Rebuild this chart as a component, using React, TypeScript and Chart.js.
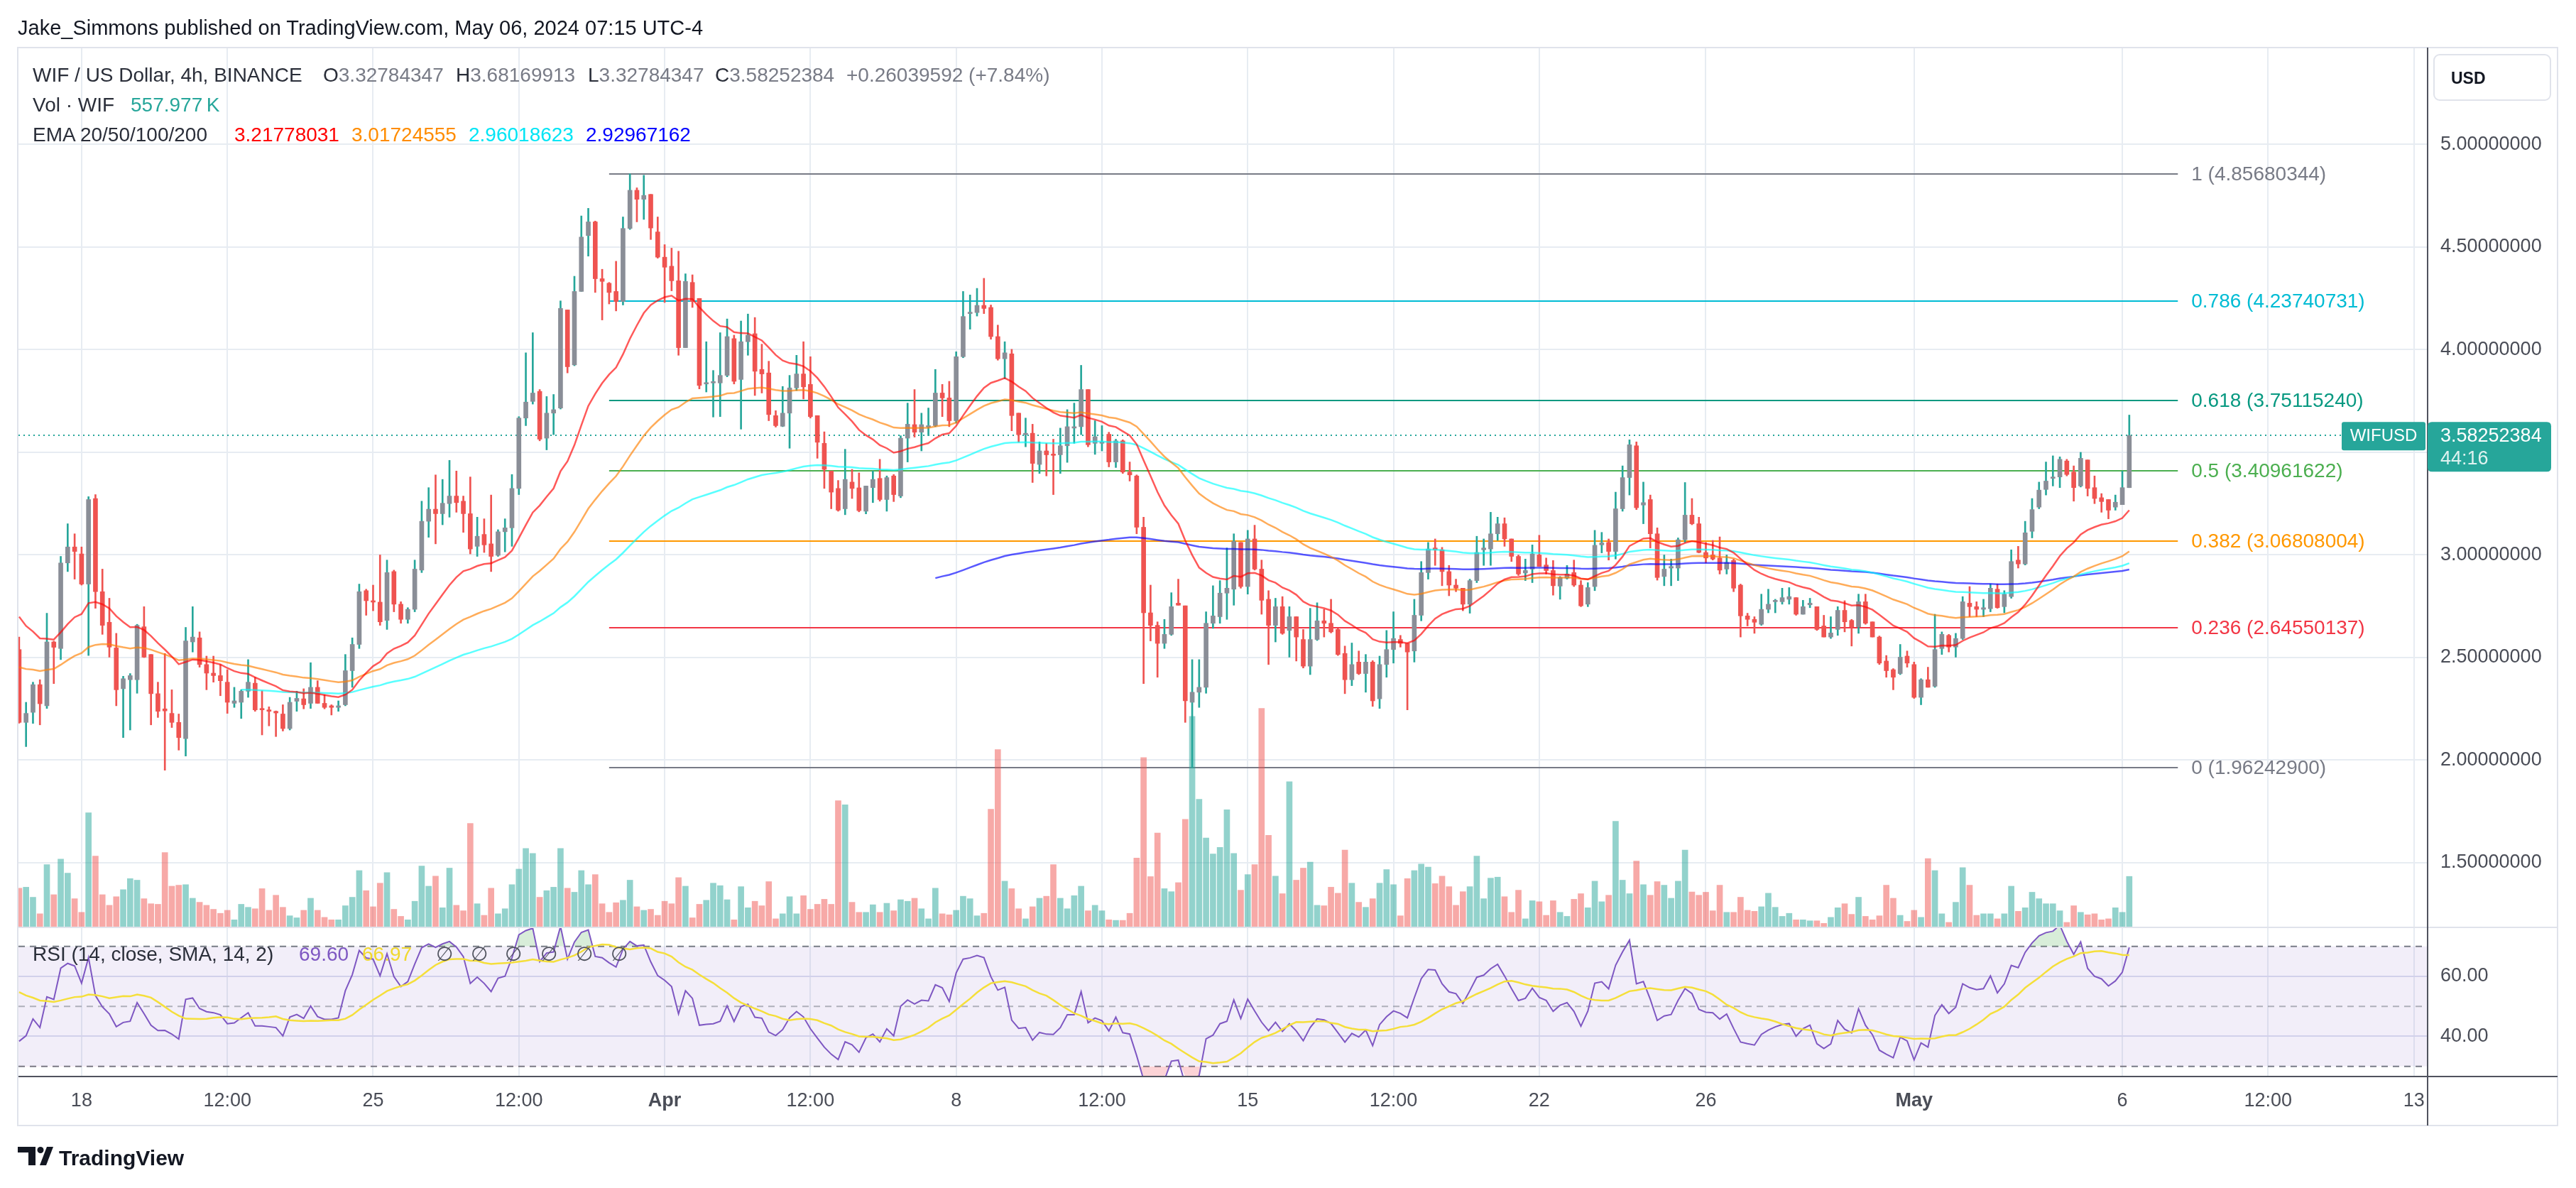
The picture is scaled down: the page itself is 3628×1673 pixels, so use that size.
import React, { useEffect, useRef } from "react";
import { Chart, registerables } from "chart.js";

Chart.register(...registerables);

// ---------------- data (4h WIF/USD bars, Mar 16 12:00 -> May 6 04:00) ----------------
const OPEN = [
  2.539,2.184,2.233,2.368,2.265,2.576,2.544,2.961,3.039,3.005,
  2.858,3.275,2.821,2.672,2.547,2.348,2.392,2.392,2.650,2.515,
  2.324,2.250,2.228,2.184,2.105,2.576,2.596,2.466,2.424,2.412,
  2.380,2.277,2.282,2.336,2.375,2.252,2.245,2.238,2.225,2.154,
  2.287,2.299,2.277,2.355,2.277,2.265,2.257,2.270,2.436,2.564,
  2.826,2.777,2.770,2.681,2.919,2.760,2.686,2.735,2.926,3.164,
  3.223,3.201,3.250,3.287,3.262,3.201,3.042,3.100,3.054,2.998,
  3.113,3.132,3.324,3.667,3.748,3.797,3.569,3.691,3.716,4.194,
  3.926,4.284,4.556,4.623,4.346,4.324,4.284,4.235,4.591,4.777,
  4.733,4.757,4.574,4.451,4.407,4.336,4.010,4.328,4.250,3.833,
  3.838,3.838,3.875,4.054,3.855,4.039,4.078,3.904,3.887,3.679,
  3.627,3.691,3.814,3.882,3.831,3.679,3.544,3.409,3.324,3.225,
  3.355,3.327,3.213,3.328,3.373,3.270,3.385,3.287,3.569,3.635,
  3.598,3.623,3.630,3.789,3.765,3.654,3.966,4.176,4.181,4.216,
  4.206,4.064,3.956,3.980,3.691,3.586,3.593,3.441,3.507,3.490,
  3.488,3.532,3.618,3.625,3.806,3.544,3.544,3.588,3.453,3.556,
  3.404,3.385,3.135,2.718,2.657,2.569,2.613,2.765,2.752,2.282,
  2.331,2.355,2.667,2.699,2.814,2.833,3.061,2.846,3.078,2.931,
  2.784,2.657,2.748,2.632,2.699,2.588,2.458,2.588,2.679,2.667,
  2.637,2.520,2.392,2.478,2.422,2.478,2.299,2.466,2.539,2.588,
  2.569,2.532,2.706,2.914,3.034,3.025,2.919,2.853,2.838,2.760,
  2.875,3.025,3.029,3.103,3.152,3.078,2.993,2.912,2.931,3.000,
  2.951,2.924,2.848,2.887,2.914,2.853,2.760,2.846,3.049,3.061,
  3.017,3.225,3.377,3.532,3.243,3.270,3.103,2.895,2.936,2.936,
  3.074,3.194,3.152,3.012,3.000,2.985,2.931,2.973,2.853,2.703,
  2.686,2.662,2.735,2.772,2.772,2.784,2.792,2.711,2.757,2.748,
  2.654,2.600,2.637,2.730,2.681,2.650,2.772,2.674,2.600,2.483,
  2.441,2.422,2.507,2.466,2.306,2.392,2.360,2.544,2.608,2.551,
  2.593,2.765,2.748,2.735,2.738,2.833,2.748,2.797,2.975,2.956,
  3.115,3.233,3.319,3.373,3.380,3.458,3.404,3.336,3.463,3.328,
  3.279,3.270,3.233,3.245,3.32784347,
];
const HIGH = [
  2.600,2.282,2.380,2.392,2.716,2.580,2.993,3.152,3.103,3.039,
  3.284,3.294,2.931,2.789,2.618,2.409,2.422,2.662,2.748,2.515,
  2.380,2.520,2.343,2.225,2.647,2.748,2.625,2.507,2.507,2.466,
  2.441,2.355,2.343,2.490,2.404,2.338,2.260,2.240,2.270,2.306,
  2.336,2.348,2.475,2.387,2.319,2.270,2.289,2.515,2.596,2.858,
  2.833,2.853,3.000,2.975,2.926,2.772,2.743,2.975,3.262,3.328,
  3.390,3.368,3.461,3.409,3.287,3.380,3.184,3.176,3.292,3.123,
  3.176,3.392,3.674,3.985,4.083,3.806,3.772,3.782,4.238,4.194,
  4.358,4.652,4.689,4.627,4.392,4.328,4.431,4.647,4.85680344,4.789,
  4.850,4.757,4.647,4.512,4.495,4.480,4.370,4.365,4.250,4.039,
  3.899,4.083,4.150,4.071,4.140,4.174,4.157,4.027,3.944,3.703,
  3.821,3.875,3.973,4.039,3.966,3.679,3.600,3.409,3.363,3.515,
  3.417,3.400,3.336,3.409,3.466,3.385,3.392,3.581,3.740,3.806,
  3.691,3.716,3.904,3.831,3.846,3.990,4.284,4.267,4.299,4.348,
  4.218,4.120,4.039,4.002,3.691,3.667,3.637,3.551,3.544,3.564,
  3.618,3.708,3.740,3.924,3.806,3.654,3.630,3.598,3.564,3.561,
  3.453,3.390,3.184,2.853,2.674,2.686,2.816,2.882,2.752,2.490,
  2.490,2.723,2.850,2.875,3.034,3.103,3.061,3.120,3.145,2.975,
  2.826,2.789,2.797,2.748,2.699,2.637,2.740,2.767,2.735,2.784,
  2.642,2.556,2.571,2.532,2.515,2.485,2.507,2.632,2.723,2.608,
  2.569,2.784,2.968,3.061,3.078,3.037,2.949,2.882,2.838,2.882,
  3.091,3.078,3.208,3.184,3.181,3.078,3.000,2.980,3.049,3.096,
  2.985,2.973,2.895,2.949,2.975,2.875,2.865,3.120,3.110,3.078,
  3.306,3.434,3.561,3.551,3.355,3.292,3.132,3.000,2.980,3.083,
  3.353,3.275,3.184,3.061,3.071,3.088,3.000,2.980,2.858,2.716,
  2.699,2.809,2.833,2.784,2.838,2.841,2.792,2.779,2.789,2.748,
  2.706,2.699,2.748,2.777,2.686,2.809,2.809,2.674,2.605,2.510,
  2.446,2.564,2.532,2.478,2.397,2.453,2.711,2.625,2.613,2.618,
  2.797,2.846,2.772,2.784,2.858,2.858,2.826,3.025,3.042,3.164,
  3.275,3.355,3.453,3.483,3.478,3.466,3.434,3.500,3.463,3.385,
  3.299,3.270,3.292,3.409,3.68169913,
];
const LOW = [
  2.180,2.066,2.179,2.172,2.252,2.373,2.490,2.919,2.882,2.853,
  2.510,2.740,2.613,2.502,2.265,2.110,2.147,2.326,2.500,2.172,
  2.208,1.951,2.159,2.049,2.020,2.527,2.453,2.343,2.380,2.314,
  2.228,2.257,2.203,2.306,2.238,2.123,2.167,2.115,2.142,2.147,
  2.238,2.250,2.252,2.277,2.250,2.220,2.238,2.265,2.355,2.544,
  2.706,2.728,2.657,2.637,2.723,2.667,2.667,2.723,2.914,3.086,
  3.054,3.147,3.184,3.208,3.110,3.005,2.993,3.012,2.919,2.993,
  3.015,3.042,3.294,3.630,3.735,3.556,3.512,3.586,3.711,3.887,
  3.922,4.284,4.456,4.279,4.145,4.223,4.189,4.218,4.586,4.623,
  4.635,4.537,4.446,4.230,4.287,3.973,4.010,4.206,3.809,3.794,
  3.672,3.674,3.868,3.833,3.613,3.973,3.777,3.789,3.654,3.623,
  3.625,3.520,3.801,3.760,3.667,3.471,3.324,3.225,3.213,3.196,
  3.275,3.210,3.200,3.255,3.262,3.213,3.260,3.279,3.453,3.574,
  3.507,3.581,3.625,3.674,3.625,3.642,3.961,4.100,4.164,4.176,
  4.051,3.949,3.858,3.605,3.549,3.527,3.353,3.397,3.385,3.294,
  3.397,3.451,3.544,3.586,3.527,3.490,3.507,3.429,3.426,3.397,
  3.360,3.103,2.373,2.581,2.404,2.544,2.608,2.755,2.184,1.962429,
  2.257,2.326,2.642,2.667,2.686,2.755,2.838,2.809,2.926,2.711,
  2.466,2.576,2.613,2.502,2.483,2.449,2.417,2.583,2.600,2.620,
  2.510,2.324,2.363,2.417,2.331,2.262,2.252,2.404,2.473,2.551,
  2.245,2.478,2.679,2.882,2.949,2.850,2.801,2.821,2.728,2.716,
  2.865,2.949,2.949,3.071,3.042,2.968,2.900,2.875,2.865,2.944,
  2.907,2.804,2.784,2.882,2.846,2.748,2.748,2.826,3.010,2.975,
  2.980,3.213,3.292,3.221,3.152,3.034,2.877,2.850,2.850,2.875,
  3.061,3.147,3.010,2.961,2.975,2.907,2.907,2.821,2.600,2.654,
  2.618,2.657,2.718,2.718,2.760,2.760,2.706,2.711,2.743,2.632,
  2.600,2.593,2.608,2.625,2.556,2.618,2.662,2.600,2.466,2.404,
  2.343,2.417,2.453,2.301,2.270,2.355,2.355,2.515,2.527,2.502,
  2.588,2.699,2.699,2.699,2.723,2.740,2.718,2.789,2.936,2.951,
  3.083,3.225,3.292,3.336,3.328,3.385,3.262,3.331,3.287,3.250,
  3.208,3.176,3.218,3.245,3.32784347,
];
const CLOSE = [
  2.184,2.228,2.368,2.275,2.576,2.550,2.961,3.039,3.017,2.858,
  3.270,2.821,2.657,2.551,2.343,2.397,2.412,2.657,2.502,2.324,
  2.238,2.240,2.184,2.110,2.581,2.600,2.466,2.424,2.412,2.387,
  2.282,2.289,2.336,2.380,2.245,2.245,2.238,2.230,2.154,2.282,
  2.301,2.270,2.355,2.277,2.257,2.257,2.265,2.436,2.564,2.821,
  2.777,2.770,2.674,2.914,2.760,2.686,2.735,2.931,3.164,3.223,
  3.201,3.252,3.287,3.255,3.201,3.029,3.091,3.049,2.993,3.113,
  3.132,3.324,3.667,3.745,3.789,3.564,3.691,3.708,4.201,3.917,
  4.284,4.549,4.623,4.346,4.333,4.279,4.235,4.591,4.777,4.733,
  4.752,4.593,4.451,4.402,4.336,4.010,4.333,4.235,3.826,3.838,
  3.845,3.875,4.064,3.846,4.039,4.071,3.895,3.882,3.684,3.630,
  3.691,3.814,3.882,3.819,3.674,3.549,3.417,3.306,3.218,3.368,
  3.324,3.216,3.336,3.368,3.270,3.377,3.294,3.569,3.637,3.598,
  3.635,3.630,3.789,3.765,3.654,3.966,4.162,4.181,4.216,4.201,
  4.064,3.956,3.985,3.679,3.586,3.593,3.446,3.507,3.488,3.485,
  3.532,3.625,3.625,3.806,3.537,3.576,3.551,3.453,3.556,3.404,
  3.390,3.135,2.718,2.657,2.569,2.613,2.748,2.755,2.289,2.331,
  2.355,2.667,2.703,2.814,2.838,3.066,2.846,3.078,2.931,2.779,
  2.657,2.748,2.618,2.699,2.600,2.458,2.588,2.679,2.667,2.625,
  2.515,2.392,2.466,2.422,2.478,2.289,2.466,2.539,2.593,2.569,
  2.527,2.706,2.914,3.029,3.025,2.919,2.853,2.838,2.760,2.875,
  3.012,3.034,3.103,3.152,3.078,2.993,2.907,2.924,3.005,2.944,
  2.924,2.850,2.890,2.907,2.853,2.752,2.841,3.047,3.059,3.017,
  3.225,3.377,3.537,3.230,3.255,3.103,2.890,2.931,2.944,3.074,
  3.194,3.152,3.012,2.985,2.980,2.926,2.963,2.838,2.703,2.686,
  2.672,2.735,2.760,2.779,2.792,2.797,2.711,2.748,2.765,2.637,
  2.600,2.620,2.730,2.674,2.650,2.772,2.667,2.600,2.473,2.436,
  2.404,2.502,2.473,2.306,2.392,2.355,2.539,2.613,2.551,2.593,
  2.772,2.748,2.735,2.743,2.838,2.743,2.809,2.968,2.956,3.108,
  3.221,3.316,3.360,3.380,3.466,3.392,3.328,3.471,3.324,3.275,
  3.260,3.218,3.257,3.328,3.58252384,
];
// volume in thousands of WIF
const VOLUME_K = [
  429,440,330,149,688,358,748,594,314,165,
  1254,781,358,242,336,413,534,517,314,259,
  253,820,451,462,468,319,275,242,198,154,
  187,83,253,220,204,424,187,352,220,127,
  105,187,319,187,110,83,83,237,330,622,
  402,226,484,600,198,121,83,286,671,451,
  561,215,649,242,182,1139,259,132,429,149,
  204,468,638,864,809,330,402,440,864,429,
  385,622,468,578,259,165,270,297,517,226,
  187,198,132,286,259,545,451,105,253,297,
  484,457,303,83,446,215,286,237,501,94,
  149,336,149,347,198,253,308,253,1386,1342,
  275,165,165,248,165,264,182,303,286,319,
  204,94,429,149,138,187,341,314,127,154,
  1293,1947,506,424,204,94,226,319,341,688,
  319,204,347,451,182,242,182,83,77,77,
  154,759,1859,556,1034,424,391,490,1183,2310,
  1403,979,803,875,1287,809,407,578,688,2398,
  1007,561,369,1595,517,649,715,242,237,440,
  374,847,484,275,220,314,484,633,468,127,
  534,622,693,660,479,561,446,242,391,446,
  781,314,539,550,336,165,407,94,292,281,
  132,292,165,121,308,369,215,506,281,352,
  1161,517,369,726,468,352,501,462,319,506,
  847,388,352,385,182,462,165,165,330,187,
  176,226,374,220,121,154,83,83,72,72,
  44,110,215,259,143,330,121,83,127,462,
  319,132,66,187,110,754,622,149,55,275,
  655,462,132,149,149,94,149,451,176,215,
  385,314,259,259,182,55,237,165,138,149,
  83,94,215,165,557.977,
];

// time axis
const TIME_TICK_IDX = [9, 30, 51, 72, 93, 114, 135, 156, 177, 198, 219, 243, 273, 303, 324, 345];
const TIME_TICK_LABELS = ["18", "12:00", "25", "12:00", "Apr", "12:00", "8", "12:00", "15", "12:00", "22", "26", "May", "6", "12:00", "13"];
const BOLD_TICK_LABELS = ["Apr", "May"];
const PRICE_TICKS = [1.5, 2, 2.5, 3, 3.5, 4, 4.5, 5];
const RSI_TICKS = [40, 60];

// fibonacci retracement drawing
const FIB_LEVELS = [1, 0.786, 0.618, 0.5, 0.382, 0.236, 0];
const FIB_PRICES = [4.85680344, 4.23740731, 3.7511524, 3.40961622, 3.06808004, 2.64550137, 1.962429];
const FIB_COLORS = ["#787b86", "#00bcd4", "#089981", "#4caf50", "#ff9800", "#f23645", "#787b86"];
const FIB_START_IDX = 85;
const FIB_END_IDX = 311;

// indicator starting values
const EMA20_FIRST = { idx: 0, value: 2.699 };
const EMA50_FIRST = { idx: 0, value: 2.453 };
const EMA100_FIRST = { idx: 32, value: 2.343 };
const EMA200_FIRST = { idx: 132, value: 2.887 };
const RSI_PREV_CLOSE = 2.539;
const RSI_SEED_GAIN = 0.045;
const RSI_SEED_LOSS = 0.045;
const RSI_SMA_SEED = 56;

// legend texts
const LEGEND_OHLC = [
  { k: "O", v: "3.32784347", x: 455 },
  { k: "H", v: "3.68169913", x: 642 },
  { k: "L", v: "3.32784347", x: 828 },
  { k: "C", v: "3.58252384", x: 1007 },
];
const LEGEND_CHANGE = "+0.26039592 (+7.84%)";
const LEGEND_VOL = "557.977\u202FK";
const LEGEND_EMA = [
  { v: "3.21778031", c: "#ff0000", x: 330 },
  { v: "3.01724555", c: "#ff8c00", x: 495 },
  { v: "2.96018623", c: "#00e5f5", x: 660 },
  { v: "2.92967162", c: "#0000ff", x: 825 },
];
const LEGEND_RSI = ["69.60", "66.97"];
const COUNTDOWN = "44:16";

// ---------------- layout / style ----------------
const PAGE_W = 3628;
const PAGE_H = 1673;
const PLOT_L = 26;
const PLOT_T = 67;
const PLOT_R = 3419;
const PRICE_B = 1306;
const RSI_B = 1516;
const AXIS_B = 1585;
const FRAME_R = 3602;
const X_MIN = -0.092;
const X_MAX = 346.98;
const P_MIN = 1.18512;
const P_MAX = 5.4723;
const R_MIN = 26.62;
const R_MAX = 76.32;
const V_MAX = 9630;
const V_MIN = (-V_MAX * (RSI_B - PRICE_B)) / (PRICE_B - PLOT_T);

const FONT = "'Liberation Sans', Arial, 'DejaVu Sans', sans-serif";
const UP = "#26a69a";
const DOWN = "#ef5350";
const UP_BODY = "#8a8e97";
const GRID = "#e7ecf2";
const AXIS_TEXT = "#4a4d57";
const DARK = "#131722";

function emaLine(closes: number[], period: number, first: { idx: number; value: number }) {
  const a = 2 / (period + 1);
  let e = first.value;
  return closes.map((c, i) => {
    if (i < first.idx) return null;
    if (i > first.idx) e = a * c + (1 - a) * e;
    return e;
  });
}
function rsiLine(closes: number[], prevClose: number, g0: number, l0: number, n = 14) {
  let g = g0, l = l0, p = prevClose;
  return closes.map((c) => {
    const d = c - p;
    p = c;
    g = (g * (n - 1) + Math.max(d, 0)) / n;
    l = (l * (n - 1) + Math.max(-d, 0)) / n;
    return l === 0 ? 100 : 100 - 100 / (1 + g / l);
  });
}
function smaLine(vals: number[], n: number, seed: number) {
  return vals.map((_, i) => {
    let s = 0;
    for (let k = i - n + 1; k <= i; k++) s += k < 0 ? seed : vals[k];
    return s / n;
  });
}
function rr(ctx: CanvasRenderingContext2D, x: number, y: number, w: number, h: number, r: number) {
  ctx.beginPath();
  ctx.moveTo(x + r, y);
  ctx.lineTo(x + w - r, y);
  ctx.quadraticCurveTo(x + w, y, x + w, y + r);
  ctx.lineTo(x + w, y + h - r);
  ctx.quadraticCurveTo(x + w, y + h, x + w - r, y + h);
  ctx.lineTo(x + r, y + h);
  ctx.quadraticCurveTo(x, y + h, x, y + h - r);
  ctx.lineTo(x, y + r);
  ctx.quadraticCurveTo(x, y, x + r, y);
  ctx.closePath();
}
function hline(ctx: CanvasRenderingContext2D, x1: number, x2: number, y: number) {
  ctx.beginPath();
  ctx.moveTo(x1, y);
  ctx.lineTo(x2, y);
  ctx.stroke();
}

const decorPlugin = {
  id: "tvDecor",
  beforeDatasetsDraw(chart: any) {
    const { ctx, chartArea: ca, scales } = chart;
    const x = scales.x, y = scales.y, yR = scales.yR;
    ctx.save();
    // RSI band
    const y70 = yR.getPixelForValue(70), y50 = yR.getPixelForValue(50), y30 = yR.getPixelForValue(30);
    ctx.fillStyle = "rgba(126,87,194,0.1)";
    ctx.fillRect(ca.left, y70, ca.right - ca.left, y30 - y70);
    ctx.lineWidth = 2;
    ctx.setLineDash([9, 7]);
    ctx.strokeStyle = "#787b86";
    hline(ctx, ca.left, ca.right, y70);
    hline(ctx, ca.left, ca.right, y30);
    ctx.strokeStyle = "rgba(120,123,134,0.55)";
    hline(ctx, ca.left, ca.right, y50);
    ctx.setLineDash([]);
    // fib levels
    const fx1 = x.getPixelForValue(FIB_START_IDX), fx2 = x.getPixelForValue(FIB_END_IDX);
    FIB_PRICES.forEach((p, k) => {
      ctx.strokeStyle = FIB_COLORS[k];
      ctx.lineWidth = 2;
      hline(ctx, fx1, fx2, Math.round(y.getPixelForValue(p)));
    });
    // last price dotted line
    const py = Math.round(y.getPixelForValue(CLOSE[CLOSE.length - 1]));
    ctx.strokeStyle = UP;
    ctx.lineWidth = 2;
    ctx.setLineDash([2, 5]);
    hline(ctx, ca.left, ca.right, py);
    ctx.restore();
  },
  afterDraw(chart: any) {
    const { ctx, scales } = chart;
    const x = scales.x, y = scales.y;
    ctx.save();
    // frame & separators
    ctx.strokeStyle = "#e0e3eb";
    ctx.lineWidth = 2;
    ctx.strokeRect(PLOT_L - 1, PLOT_T, FRAME_R - PLOT_L + 1, AXIS_B - PLOT_T);
    hline(ctx, PLOT_L, FRAME_R, PRICE_B);
    ctx.strokeStyle = "#50535e";
    hline(ctx, PLOT_L, FRAME_R, RSI_B);
    ctx.beginPath();
    ctx.moveTo(PLOT_R, PLOT_T);
    ctx.lineTo(PLOT_R, AXIS_B);
    ctx.stroke();
    // fib labels
    ctx.font = `28px ${FONT}`;
    ctx.textBaseline = "middle";
    ctx.textAlign = "left";
    const lx = x.getPixelForValue(FIB_END_IDX) + 19;
    FIB_LEVELS.forEach((lv, k) => {
      ctx.fillStyle = FIB_COLORS[k];
      ctx.fillText(`${lv} (${FIB_PRICES[k].toFixed(8)})`, lx, y.getPixelForValue(FIB_PRICES[k]) + 1);
    });
    // last price labels
    const last = CLOSE[CLOSE.length - 1];
    const py = y.getPixelForValue(last);
    const top = py - 19;
    ctx.fillStyle = UP;
    rr(ctx, PLOT_R - 121, top, 118, 40, 3);
    ctx.fill();
    ctx.fillStyle = "#ffffff";
    ctx.font = `24px ${FONT}`;
    ctx.textAlign = "center";
    ctx.fillText("WIFUSD", PLOT_R - 62, py + 1);
    ctx.fillStyle = UP;
    rr(ctx, PLOT_R, top, 174, 70, 6);
    ctx.fill();
    ctx.textAlign = "left";
    ctx.fillStyle = "#ffffff";
    ctx.font = `27px ${FONT}`;
    ctx.fillText(last.toFixed(8), PLOT_R + 18, py + 1);
    ctx.fillStyle = "rgba(255,255,255,0.85)";
    ctx.fillText(COUNTDOWN, PLOT_R + 18, py + 33);
    ctx.restore();
  },
};

export default function App() {
  const canvasRef = useRef<HTMLCanvasElement | null>(null);

  useEffect(() => {
    const canvas = canvasRef.current;
    if (!canvas) return;
    Chart.defaults.font.family = FONT;

    const idx = CLOSE.map((_, i) => i);
    const isUp = idx.map((i) => CLOSE[i] >= OPEN[i]);
    const ema20 = emaLine(CLOSE, 20, EMA20_FIRST);
    const ema50 = emaLine(CLOSE, 50, EMA50_FIRST);
    const ema100 = emaLine(CLOSE, 100, EMA100_FIRST);
    const ema200 = emaLine(CLOSE, 200, EMA200_FIRST);
    const rsi = rsiLine(CLOSE, RSI_PREV_CLOSE, RSI_SEED_GAIN, RSI_SEED_LOSS);
    const rsiMa = smaLine(rsi, 14, RSI_SMA_SEED);
    const rsiClamped = rsi.map((v) => Math.min(Math.max(v, R_MIN), R_MAX));

    const xy = (arr: (number | null)[]) => arr.map((v, i) => ({ x: i, y: v }));
    const lineDs = (label: string, data: any[], color: string, width: number, yAxisID: string, order: number) => ({
      type: "line",
      label,
      data,
      borderColor: color,
      backgroundColor: color,
      borderWidth: width,
      pointRadius: 0,
      pointHoverRadius: 0,
      tension: 0,
      fill: false,
      yAxisID,
      xAxisID: "x",
      order,
    });

    const datasets: any[] = [
      lineDs("EMA 20", xy(ema20), "rgba(255,0,0,0.65)", 2.5, "y", 1),
      lineDs("EMA 50", xy(ema50), "rgba(255,128,0,0.65)", 2.5, "y", 2),
      lineDs("EMA 100", xy(ema100), "rgba(0,255,255,0.65)", 2.5, "y", 3),
      lineDs("EMA 200", xy(ema200), "rgba(0,0,255,0.65)", 2.5, "y", 4),
      {
        type: "bar",
        label: "body",
        data: idx.map((i) => ({ x: i, y: [Math.min(OPEN[i], CLOSE[i]), Math.max(OPEN[i], CLOSE[i])] })),
        backgroundColor: isUp.map((u) => (u ? UP_BODY : DOWN)),
        borderWidth: 0,
        barThickness: 6,
        grouped: false,
        minBarLength: 2,
        yAxisID: "y",
        xAxisID: "x",
        order: 7,
      },
      {
        type: "bar",
        label: "wick",
        data: idx.map((i) => ({ x: i, y: [LOW[i], HIGH[i]] })),
        backgroundColor: isUp.map((u) => (u ? UP : DOWN)),
        borderWidth: 0,
        barThickness: 2,
        grouped: false,
        minBarLength: 2,
        yAxisID: "y",
        xAxisID: "x",
        order: 8,
      },
      {
        type: "bar",
        label: "Vol",
        data: idx.map((i) => ({ x: i, y: VOLUME_K[i] })),
        backgroundColor: isUp.map((u) => (u ? "rgba(38,166,154,0.5)" : "rgba(239,83,80,0.5)")),
        borderWidth: 0,
        barThickness: 8,
        grouped: false,
        yAxisID: "yV",
        xAxisID: "x",
        order: 9,
      },
      {
        ...lineDs("ob", xy(rsiClamped), "rgba(0,0,0,0)", 0, "yR", 6),
        fill: { target: { value: 70 }, above: "rgba(76,175,80,0.22)", below: "rgba(0,0,0,0)" },
      },
      {
        ...lineDs("os", xy(rsiClamped), "rgba(0,0,0,0)", 0, "yR", 6),
        fill: { target: { value: 30 }, above: "rgba(0,0,0,0)", below: "rgba(242,54,69,0.22)" },
      },
      lineDs("RSI", xy(rsi), "#7e57c2", 2, "yR", 2),
      lineDs("RSI MA", xy(rsiMa), "#f5df3a", 2.5, "yR", 1),
    ];

    const tickLabel = (v: any) => {
      const k = TIME_TICK_IDX.indexOf(Number(v));
      return k >= 0 ? TIME_TICK_LABELS[k] : "";
    };

    const chart = new Chart(canvas, {
      type: "bar",
      data: { datasets },
      plugins: [decorPlugin],
      options: {
        responsive: false,
        animation: false,
        devicePixelRatio: 1,
        events: [],
        layout: { padding: { left: PLOT_L, top: PLOT_T, right: PAGE_W - FRAME_R, bottom: PAGE_H - AXIS_B } },
        plugins: { legend: { display: false }, tooltip: { enabled: false }, title: { display: false } },
        scales: {
          x: {
            type: "linear",
            position: "bottom",
            min: X_MIN,
            max: X_MAX,
            offset: false,
            afterBuildTicks: (s: any) => {
              s.ticks = TIME_TICK_IDX.map((v) => ({ value: v }));
            },
            afterFit: (s: any) => {
              s.height = AXIS_B - RSI_B;
            },
            grid: { color: GRID, lineWidth: 2, drawTicks: false, offset: false },
            border: { display: false },
            ticks: {
              autoSkip: false,
              maxRotation: 0,
              minRotation: 0,
              padding: 18,
              color: AXIS_TEXT,
              font: (c: any) => ({
                family: FONT,
                size: 27,
                weight: c && c.tick && BOLD_TICK_LABELS.includes(tickLabel(c.tick.value)) ? "bold" : "normal",
              }),
              callback: (v: any) => tickLabel(v),
            },
          },
          y: {
            type: "linear",
            position: "right",
            stack: "pane",
            stackWeight: PRICE_B - PLOT_T,
            min: P_MIN,
            max: P_MAX,
            afterBuildTicks: (s: any) => {
              s.ticks = PRICE_TICKS.map((v) => ({ value: v }));
            },
            afterFit: (s: any) => {
              s.width = FRAME_R - PLOT_R;
            },
            grid: { color: GRID, lineWidth: 2, drawTicks: false },
            border: { display: false },
            ticks: {
              autoSkip: false,
              padding: 18,
              color: AXIS_TEXT,
              font: { family: FONT, size: 27 },
              callback: (v: any) => Number(v).toFixed(8),
            },
          },
          yR: {
            type: "linear",
            position: "right",
            stack: "pane",
            stackWeight: RSI_B - PRICE_B,
            min: R_MIN,
            max: R_MAX,
            afterBuildTicks: (s: any) => {
              s.ticks = RSI_TICKS.map((v) => ({ value: v }));
            },
            afterFit: (s: any) => {
              s.width = FRAME_R - PLOT_R;
            },
            grid: { color: "#dcdff0", lineWidth: 2, drawTicks: false },
            border: { display: false },
            ticks: {
              autoSkip: false,
              padding: 18,
              color: AXIS_TEXT,
              font: { family: FONT, size: 27 },
              callback: (v: any) => Number(v).toFixed(2),
            },
          },
          yV: {
            type: "linear",
            position: "left",
            display: false,
            min: V_MIN,
            max: V_MAX,
          },
        },
      } as any,
    } as any);

    return () => chart.destroy();
  }, []);

  const legendDark = "#2a2e39";
  const legendGrey = "#787b86";

  return (
    <div style={{ position: "absolute", left: 0, top: 0, width: PAGE_W, height: PAGE_H, background: "#ffffff", overflow: "hidden" }}>
      <canvas
        ref={canvasRef}
        width={PAGE_W}
        height={PAGE_H}
        style={{ position: "absolute", left: 0, top: 0, width: PAGE_W, height: PAGE_H }}
      />
      <svg
        width={PAGE_W}
        height={PAGE_H}
        style={{ position: "absolute", left: 0, top: 0, pointerEvents: "none" }}
        fontFamily={FONT}
      >
        <text x={25} y={49} fontSize={29} fill={DARK}>
          Jake_Simmons published on TradingView.com, May 06, 2024 07:15 UTC-4
        </text>

        <text x={46} y={115} fontSize={28} fill={legendDark}>WIF / US Dollar, 4h, BINANCE</text>
        {LEGEND_OHLC.map((it) => (
          <text key={it.k} x={it.x} y={115} fontSize={28}>
            <tspan fill={legendDark}>{it.k}</tspan>
            <tspan fill={legendGrey}>{it.v}</tspan>
          </text>
        ))}
        <text x={1192} y={115} fontSize={28} fill={legendGrey}>{LEGEND_CHANGE}</text>

        <text x={46} y={157} fontSize={28} fill={legendDark}>Vol · WIF</text>
        <text x={184} y={157} fontSize={28} fill={UP}>{LEGEND_VOL}</text>

        <text x={46} y={199} fontSize={28} fill={legendDark}>EMA 20/50/100/200</text>
        {LEGEND_EMA.map((it) => (
          <text key={it.v} x={it.x} y={199} fontSize={28} fill={it.c}>{it.v}</text>
        ))}

        <text x={46} y={1353} fontSize={28} fill={legendDark}>RSI (14, close, SMA, 14, 2)</text>
        <text x={421} y={1353} fontSize={28} fill="#7e57c2">{LEGEND_RSI[0]}</text>
        <text x={510} y={1353} fontSize={28} fill="#f0d82e">{LEGEND_RSI[1]}</text>
        {[614, 663, 711, 761, 811, 860].map((xx) => (
          <text key={xx} x={xx} y={1353} fontSize={28} fill="#50535e">∅</text>
        ))}

        <rect x={3428} y={77} width={164} height={64} rx={8} fill="#ffffff" stroke="#e0e3eb" strokeWidth={2} />
        <text x={3452} y={118} fontSize={23} fontWeight="bold" fill={DARK}>USD</text>

        <g transform="translate(25,1615)" fill={DARK}>
          <path d="M0 0 H25 V26 H15 V8 H0 Z" />
          <circle cx={32} cy={4.5} r={4.5} />
          <path d="M31 26 H40 L50 0 H41 Z" />
        </g>
        <text x={83} y={1641} fontSize={30} fontWeight="bold" fill={DARK}>TradingView</text>
      </svg>
    </div>
  );
}
